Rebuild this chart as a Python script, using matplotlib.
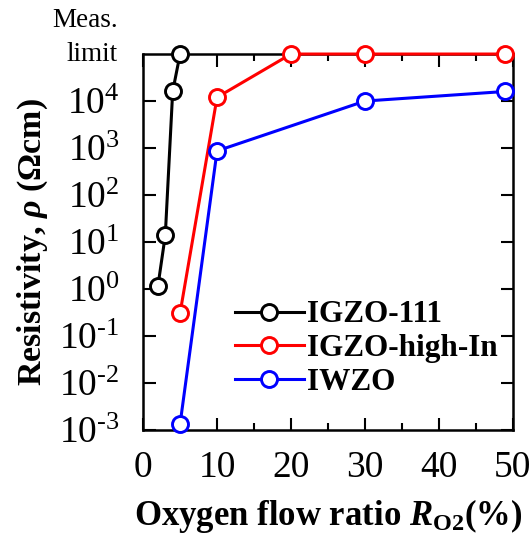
import numpy as np
import matplotlib
matplotlib.use("Agg")
import matplotlib.pyplot as plt
from matplotlib.ticker import FixedLocator, MultipleLocator

plt.rcParams["font.family"] = ["Liberation Serif", "DejaVu Serif"]
plt.rcParams["mathtext.fontset"] = "custom"
plt.rcParams["mathtext.rm"] = "Liberation Serif"
plt.rcParams["mathtext.it"] = "Liberation Serif:italic:bold"
plt.rcParams["mathtext.bf"] = "Liberation Serif:bold"

# data
x_igzo111 = [2, 3, 4, 5]
y_igzo111 = [1.15, 14, 1.6e4, 1e5]

x_highin = [5, 10, 20, 30, 49]
y_highin = [0.31, 1.2e4, 1e5, 1e5, 1e5]

x_iwzo = [5, 10, 30, 49]
y_iwzo = [1.35e-3, 870, 1.0e4, 1.6e4]

series = [
    ("IGZO-111", x_igzo111, y_igzo111, "black"),
    ("IGZO-high-In", x_highin, y_highin, "red"),
    ("IWZO", x_iwzo, y_iwzo, "blue"),
]

ytick_exps = [-3, -2, -1, 0, 1, 2, 3, 4]
ytick_vals = [10.0 ** e for e in ytick_exps]
ytick_labels = [r"$\mathdefault{10^{\text{%d}}}$" % e for e in ytick_exps]

fig = plt.figure(figsize=(5.32, 5.35), dpi=100)
ax = fig.add_axes([0.269, 0.196, 0.695, 0.703])

for name, xs, ys, col in series:
    ax.plot(xs, ys, color=col, lw=2.2, marker="o", ms=11.5, mfc="white",
            mec=col, mew=2.1, label=name, clip_on=False, zorder=3)

ax.set_yscale("log")
ax.set_ylim(1e-3, 1e5)
ax.set_xlim(0, 50)

ax.yaxis.set_major_locator(FixedLocator(ytick_vals))
ax.set_yticklabels(ytick_labels)
ax.yaxis.set_minor_locator(FixedLocator([]))
ax.xaxis.set_major_locator(MultipleLocator(10))
ax.xaxis.set_minor_locator(MultipleLocator(5))

ax.tick_params(which="both", direction="in", top=True, right=True, width=1.5)
ax.tick_params(which="major", length=9, labelsize=27)
ax.tick_params(which="minor", length=5)
ax.tick_params(axis="x", pad=15)
ax.tick_params(axis="y", pad=17)
for s in ax.spines.values():
    s.set_linewidth(1.8)

ax.text(-0.068, 1.0, "limit", transform=ax.transAxes, ha="right",
        va="center", fontsize=19.5)
ax.text(-0.068, 1.088, "Meas.", transform=ax.transAxes, ha="right",
        va="center", fontsize=19.5)

ax.set_ylabel(r"Resistivity, $\rho$ (Ωcm)", fontsize=24.5, fontweight="bold",
              labelpad=6)
ax.set_xlabel(r"Oxygen flow ratio $R_{\mathbf{O2}}$(%)", fontsize=25,
              fontweight="bold", labelpad=8)

ax.legend(loc="upper left", bbox_to_anchor=(0.215, 0.378), frameon=False,
          prop={"weight": "bold", "size": 22.5}, handlelength=2.2,
          handletextpad=0.1, labelspacing=0.15, borderaxespad=0)

fig.savefig("out.png", dpi=100)
